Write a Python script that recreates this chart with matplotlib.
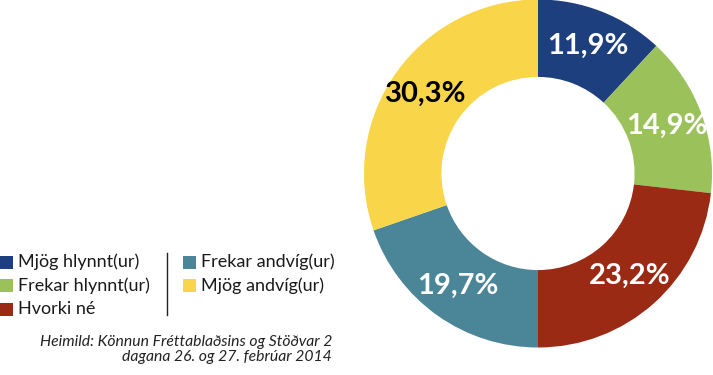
import matplotlib
matplotlib.use("Agg")
import matplotlib.pyplot as plt
from matplotlib.patches import Rectangle
from matplotlib.lines import Line2D

categories = ["Mjög hlynnt(ur)", "Frekar hlynnt(ur)", "Hvorki né", "Frekar andvíg(ur)", "Mjög andvíg(ur)"]
values = [11.9, 14.9, 23.2, 19.7, 30.3]
colors = ["#1e3f7e", "#9bc25a", "#9a2a13", "#4b8598", "#f8d549"]
label_colors = ["white", "white", "white", "white", "black"]
source_lines = ["Heimild: Könnun Fréttablaðsins og Stöðvar 2", "dagana 26. og 27. febrúar 2014"]

W, H = 713, 375
fig = plt.figure(figsize=(W / 100, H / 100), dpi=100)
FONT = "Lato"

# donut
cx, cy, r = 538, 173.5, 174
ax = fig.add_axes([(cx - r) / W, (H - cy - r) / H, 2 * r / W, 2 * r / H])
wedges, texts, autotexts = ax.pie(
    values, colors=colors, startangle=90, counterclock=False,
    wedgeprops=dict(width=0.445, linewidth=0),
    autopct=lambda p: f"{p:.1f}%".replace(".", ","), pctdistance=0.79,
    textprops=dict(fontsize=21, fontweight="bold", family=FONT))
for t, c in zip(autotexts, label_colors):
    t.set_color(c)
ax.set_xlim(-1, 1)
ax.set_ylim(-1, 1)
ax.set_aspect("equal")
ax.axis("off")

# legend (manual)
def fx(x):
    return x / W

def fy(y):
    return 1 - y / H

rows_y = [262, 285.5, 309]
col_x = [0, 183]
sq = 13
for i, (cat, col) in enumerate(zip(categories, colors)):
    c = 0 if i < 3 else 1
    rr = i if i < 3 else i - 3
    x0 = col_x[c]
    y = rows_y[rr]
    fig.add_artist(Rectangle((fx(x0), fy(y + sq / 2)), sq / W, sq / H,
                             transform=fig.transFigure, facecolor=col, edgecolor="none"))
    fig.text(fx(x0 + sq + 5), fy(y), cat, fontsize=13, family=FONT,
             color="#1a1a1a", va="center", ha="left")
fig.add_artist(Line2D([fx(166.5), fx(166.5)], [fy(253), fy(315)],
                      transform=fig.transFigure, color="#222222", linewidth=1))

fig.text(fx(332), fy(342), source_lines[0], fontsize=11.3, style="italic",
         family=FONT, color="#222222", ha="right", va="center")
fig.text(fx(332), fy(357), source_lines[1], fontsize=11.3, style="italic",
         family=FONT, color="#222222", ha="right", va="center")

fig.savefig("out.png", dpi=100)
